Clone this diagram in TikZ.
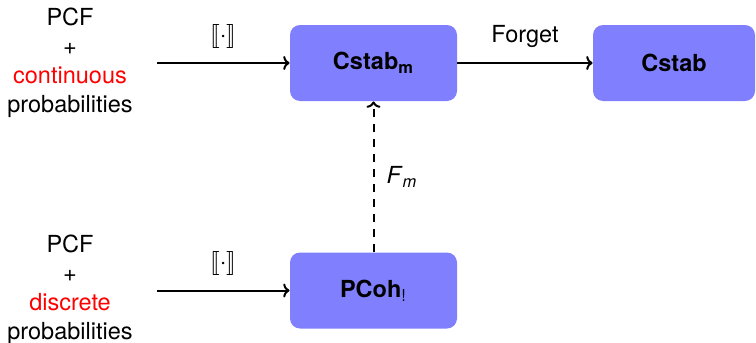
\documentclass[tikz,border=0pt]{standalone}
\usepackage{fontspec}
\usepackage{stmaryrd}
\setmainfont{TeX Gyre Heros}
\usetikzlibrary{arrows.meta}
\begin{document}
\begin{tikzpicture}[x=0.5pt,y=-0.5pt,
  every node/.style={font=\fontsize{11.75}{14.5}\selectfont},
  catbox/.style={fill=blue!50, draw=none, rounded corners=5pt, minimum height=38pt, font=\fontsize{11.75}{14.5}\selectfont\bfseries, inner sep=0pt},
  srctext/.style={align=center, anchor=base, inner sep=0pt},
  arr/.style={line width=1pt, -{To[length=3.2pt,width=7pt]}},
  lbl/.style={inner sep=0pt}
]
\useasboundingbox (0,0) rectangle (756,343);
% source texts
\node[srctext] (src1) at (70,112) {PCF\\+\\\textcolor{red}{continuous}\\probabilities};
\node[srctext] (src2) at (70,339) {PCF\\+\\\textcolor{red}{discrete}\\probabilities};
% boxes
\node[catbox, minimum width=83.5pt] (cstabm) at (373.5,63) {Cstab\textsubscript{m}};
\node[catbox, minimum width=81pt] (cstab) at (674,63) {Cstab};
\node[catbox, minimum width=83.5pt] (pcoh) at (373.5,290.5) {PCoh\textsubscript{\mdseries!}};
% arrows
\coordinate (s1) at (157,63);
\coordinate (s2) at (157,290.5);
\draw[arr] (s1) -- node[lbl, above=7pt] {$\llbracket\cdot\rrbracket$} (cstabm.west);
\draw[arr] (s2) -- node[lbl, above=7pt] {$\llbracket\cdot\rrbracket$} (pcoh.west);
\draw[arr] (cstabm.east) -- node[lbl, above=7pt] {Forget} (cstab.west);
\draw[arr, dash pattern=on 4pt off 3.5pt] (pcoh.north) -- node[lbl, right=6pt] {\textit{F}\textsubscript{\textit{m}}} (cstabm.south);
\end{tikzpicture}
\end{document}
